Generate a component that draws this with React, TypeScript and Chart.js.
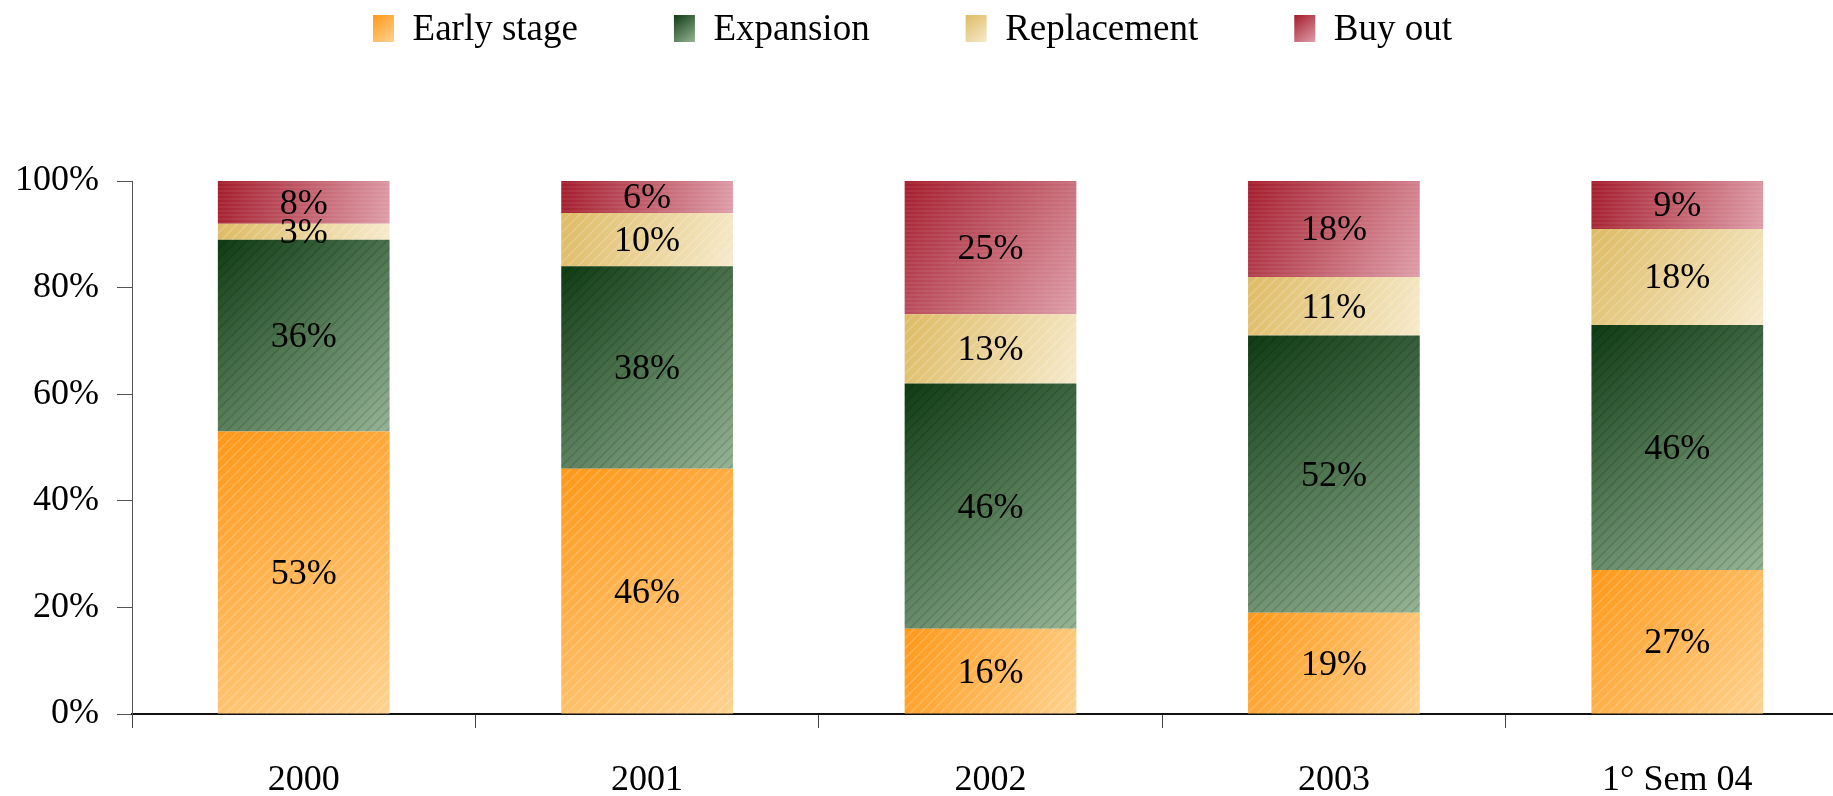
import React, { useEffect, useRef } from 'react';
import { Chart, registerables } from 'chart.js';

Chart.register(...registerables);

const categories = ['2000', '2001', '2002', '2003', '1° Sem 04'];
const seriesNames = ['Early stage', 'Expansion', 'Replacement', 'Buy out'];
const earlyStage = [53, 46, 16, 19, 27];
const expansion = [36, 38, 46, 52, 46];
const replacement = [3, 10, 13, 11, 18];
const buyOut = [8, 6, 25, 18, 9];
const yTicks = [0, 20, 40, 60, 80, 100];

const colorsDark = ['#FF9818', '#0F3C13', '#DEBB64', '#A41C2C'];
const colorsLight = ['#FFD391', '#95B495', '#F6EACB', '#DE9EA9'];
const colorsMid = ['#FFB24A', '#557A58', '#EBD49A', '#C45C6A'];

const FONT_FAMILY = "'Liberation Serif', 'Times New Roman', serif";
const CANVAS_W = 1873;
const CANVAS_H = 796;
const SHIFT_X = -24;
const LEGEND_FONT = 37;
const LEGEND_PAD = 96;
const LEGEND_ROW_Y = 12;

export default function App() {
  const canvasRef = useRef<HTMLCanvasElement | null>(null);

  useEffect(() => {
    const canvas = canvasRef.current;
    if (!canvas) return;
    const series = [earlyStage, expansion, replacement, buyOut];

    const makeBg = (d: number) => (ctx: any) => {
      if (ctx.type !== 'data') return colorsMid[d];
      const chart = ctx.chart;
      const xs = chart.scales?.x;
      const ys = chart.scales?.y;
      if (!xs || !ys || !chart.chartArea) return colorsMid[d];
      const i = ctx.dataIndex;
      const xc = xs.getPixelForValue(i);
      const step = categories.length > 1 ? xs.getPixelForValue(1) - xs.getPixelForValue(0) : 300;
      const half = step * 0.25;
      let base = 0;
      for (let k = 0; k < d; k++) base += series[k][i];
      const top = base + series[d][i];
      const y0 = ys.getPixelForValue(top);
      const y1 = ys.getPixelForValue(base);
      const g = chart.ctx.createLinearGradient(xc - half, y0, xc + half, y1);
      g.addColorStop(0, colorsDark[d]);
      g.addColorStop(1, colorsLight[d]);
      return g;
    };

    const legendTop = LEGEND_ROW_Y - LEGEND_PAD;

    const legendPatch = {
      id: 'legendPatch',
      beforeLayout(chart: any) {
        const lg = chart.legend;
        if (lg && !lg.__patched) {
          const orig = lg.fit.bind(lg);
          lg.fit = () => {
            orig();
            lg.height = 181 - legendTop;
          };
          lg.__patched = true;
        }
      },
      afterDraw(chart: any) {
        const lg = chart.legend;
        if (!lg || !lg.legendHitBoxes) return;
        const c = chart.ctx;
        const bw = 21;
        const bh = 27;
        lg.legendHitBoxes.forEach((hb: any, d: number) => {
          const x = hb.left;
          const y0 = hb.top + Math.max((LEGEND_FONT - bh) / 2, 0);
          c.save();
          c.fillStyle = '#fff';
          c.fillRect(x - 1, y0 - 1, bw + 2, bh + 2);
          const y = y0 - 2;
          const g = c.createLinearGradient(x, y, x + bw, y + bh);
          g.addColorStop(0, colorsDark[d]);
          g.addColorStop(1, colorsLight[d]);
          c.fillStyle = g;
          c.fillRect(x, y, bw, bh);
          c.restore();
        });
      },
    };

    const decoPlugin = {
      id: 'deco',
      afterDatasetsDraw(chart: any) {
        const c = chart.ctx;
        const items: { x: number; y: number; t: string }[] = [];
        chart.data.datasets.forEach((ds: any, d: number) => {
          const meta = chart.getDatasetMeta(d);
          meta.data.forEach((el: any, i: number) => {
            const p = el.getProps(['x', 'y', 'base', 'width'], true);
            const left = p.x - p.width / 2;
            const top = Math.min(p.y, p.base);
            const h = Math.abs(p.base - p.y);
            c.save();
            c.beginPath();
            c.rect(left, top, p.width, h);
            c.clip();
            c.beginPath();
            if (d === 3) {
              c.strokeStyle = 'rgba(255,255,255,0.13)';
              c.lineWidth = 1;
              for (let yy = top + 2; yy < top + h; yy += 4) {
                c.moveTo(left, yy);
                c.lineTo(left + p.width, yy);
              }
            } else {
              c.strokeStyle = d === 1 ? 'rgba(0,0,0,0.13)' : 'rgba(255,255,255,0.2)';
              c.lineWidth = 1.5;
              for (let k = -h; k < p.width + h; k += 10) {
                c.moveTo(left + k, top + h);
                c.lineTo(left + k + h, top);
              }
            }
            c.stroke();
            c.restore();
            const v = ds.data[i];
            items.push({ x: p.x, y: (p.y + p.base) / 2 + 2, t: `${v}%` });
          });
        });
        c.save();
        c.font = `36px ${FONT_FAMILY}`;
        c.fillStyle = '#000';
        c.textAlign = 'center';
        c.textBaseline = 'middle';
        items.forEach((it) => c.fillText(it.t, it.x, it.y));
        c.restore();
      },
    };

    const font = { family: FONT_FAMILY, size: 36 };

    const chart = new Chart(canvas, {
      type: 'bar',
      data: {
        labels: categories,
        datasets: series.map((data, d) => ({
          label: seriesNames[d],
          data,
          backgroundColor: makeBg(d),
          borderWidth: 0,
          barPercentage: 0.5,
          categoryPercentage: 1,
        })),
      },
      options: {
        responsive: false,
        animation: false,
        devicePixelRatio: 1,
        layout: { padding: { top: legendTop, left: 0, right: 0, bottom: 0 } },
        plugins: {
          legend: {
            display: true,
            position: 'top',
            align: 'center',
            labels: {
              boxWidth: 21,
              boxHeight: 27,
              padding: LEGEND_PAD,
              font: { family: FONT_FAMILY, size: LEGEND_FONT },
              color: '#000',
            },
          },
          tooltip: { enabled: false },
          title: { display: false },
        },
        scales: {
          x: {
            stacked: true,
            grid: {
              offset: true,
              drawOnChartArea: false,
              drawTicks: true,
              tickLength: 14,
              color: '#444',
              lineWidth: 1,
            },
            border: { display: true, color: '#111', width: 2 },
            ticks: { font, color: '#000', padding: 31, maxRotation: 0, autoSkip: false },
            afterFit: (s: any) => {
              s.height = 82;
            },
          },
          y: {
            stacked: true,
            min: 0,
            max: 100,
            afterBuildTicks: (s: any) => {
              s.ticks = yTicks.map((v) => ({ value: v }));
            },
            ticks: {
              font,
              color: '#000',
              padding: 18,
              callback: (v: any) => `${v}%`,
            },
            grid: {
              drawOnChartArea: false,
              drawTicks: true,
              tickLength: 15,
              color: '#555',
              lineWidth: 1,
            },
            border: { display: true, color: '#555', width: 1 },
            afterFit: (s: any) => {
              s.width = 156;
            },
          },
        },
      } as any,
      plugins: [legendPatch, decoPlugin],
    });

    return () => {
      chart.destroy();
    };
  }, []);

  return (
    <div
      style={{
        position: 'fixed',
        left: 0,
        top: 0,
        width: 1833,
        height: 796,
        overflow: 'hidden',
        background: '#fff',
      }}
    >
      <canvas
        ref={canvasRef}
        width={CANVAS_W}
        height={CANVAS_H}
        style={{ position: 'absolute', left: SHIFT_X, top: 0, width: CANVAS_W, height: CANVAS_H, display: 'block' }}
      />
    </div>
  );
}
